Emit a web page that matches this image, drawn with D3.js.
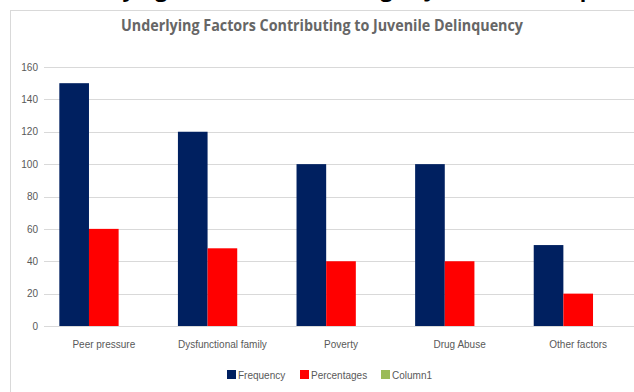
<!DOCTYPE html>
<html>
<head>
<meta charset="utf-8">
<script src="https://cdn.jsdelivr.net/npm/d3@7"></script>
<style>
  html, body { margin: 0; padding: 0; background: #fff; }
  svg { display: block; }
</style>
</head>
<body>
<svg id="chart" width="634" height="392"></svg>
<script>
const categories = ["Peer pressure", "Dysfunctional family", "Poverty", "Drug Abuse", "Other factors"];
const seriesNames = ["Frequency", "Percentages", "Column1"];
const frequency = [150, 120, 100, 100, 50];
const percentages = [60, 48, 40, 40, 20];
const column1 = [0, 0, 0, 0, 0];
const yTicks = [0, 20, 40, 60, 80, 100, 120, 140, 160];
const colors = ["#002060", "#FF0000", "#9BBB59"];
const chartTitle = "Underlying Factors Contributing to Juvenile Delinquency";

const seriesValues = [frequency, percentages, column1];
const svg = d3.select("#chart");
const W = 634, H = 392;

svg.append("rect").attr("width", W).attr("height", H).attr("fill", "#fff");

// cropped document heading above chart (only descenders visible in reference)
svg.append("text")
  .attr("x", 50).attr("y", -3)
  .attr("font-family", "'Open Sans', 'DejaVu Sans', sans-serif")
  .attr("font-size", 20).attr("font-weight", "bold")
  .attr("fill", "#000")
  .attr("textLength", 600).attr("lengthAdjust", "spacingAndGlyphs")
  .text(chartTitle);

// chart area border
svg.append("rect")
  .attr("x", 10.5).attr("y", 10.5)
  .attr("width", 700).attr("height", 500)
  .attr("fill", "#fff").attr("stroke", "#d9d9d9").attr("stroke-width", 1);

// title
svg.append("text")
  .attr("x", 322).attr("y", 31)
  .attr("text-anchor", "middle")
  .attr("font-family", "'Liberation Sans Narrow', 'Open Sans', sans-serif")
  .attr("font-size", 16).attr("font-weight", "bold")
  .attr("fill", "#666666")
  .attr("textLength", 402).attr("lengthAdjust", "spacingAndGlyphs")
  .text(chartTitle);

const y = d3.scaleLinear().domain([0, 160]).range([326, 67]);
const x0 = d3.scaleBand().domain(categories).range([44.5, 637.5]).paddingInner(0.25).paddingOuter(0.125);
const x1 = d3.scaleBand().domain(seriesNames).range([0, x0.bandwidth()]);

// gridlines
svg.append("g").selectAll("line").data(yTicks).join("line")
  .attr("x1", 44).attr("x2", W)
  .attr("y1", d => Math.round(y(d)) + 0.5).attr("y2", d => Math.round(y(d)) + 0.5)
  .attr("stroke", "#d9d9d9").attr("stroke-width", 1);

// y axis labels
const yAxis = d3.axisLeft(y).tickValues(yTicks).tickSize(0).tickPadding(0);
const gy = svg.append("g").attr("transform", "translate(38,0)").call(yAxis);
gy.select(".domain").remove();
gy.selectAll("text")
  .attr("font-family", "'Liberation Sans', sans-serif")
  .attr("font-size", 10).attr("fill", "#595959");

// bars
const groups = svg.append("g").selectAll("g").data(categories).join("g")
  .attr("transform", d => `translate(${x0(d)},0)`);
groups.selectAll("rect")
  .data((c, i) => seriesNames.map((s, j) => ({ s, j, v: seriesValues[j][i] })))
  .join("rect")
  .attr("x", d => x1(d.s))
  .attr("width", x1.bandwidth())
  .attr("y", d => y(d.v))
  .attr("height", d => y(0) - y(d.v))
  .attr("fill", d => colors[d.j]);

// x axis labels
const xAxis = d3.axisBottom(x0).tickSize(0).tickPadding(0);
const gx = svg.append("g").attr("transform", "translate(0,341)").call(xAxis);
gx.select(".domain").remove();
gx.selectAll("text")
  .attr("font-family", "'Liberation Sans', sans-serif")
  .attr("font-size", 10).attr("fill", "#595959");

// legend
const legendX = [227, 300, 381];
const lg = svg.append("g").selectAll("g").data(seriesNames).join("g")
  .attr("transform", (d, i) => `translate(${legendX[i]},370)`);
lg.append("rect").attr("width", 9).attr("height", 9).attr("fill", (d, i) => colors[i]);
lg.append("text").attr("x", 11).attr("y", 8.5)
  .attr("font-family", "'Liberation Sans', sans-serif")
  .attr("font-size", 10).attr("fill", "#595959")
  .text(d => d);
</script>
</body>
</html>
